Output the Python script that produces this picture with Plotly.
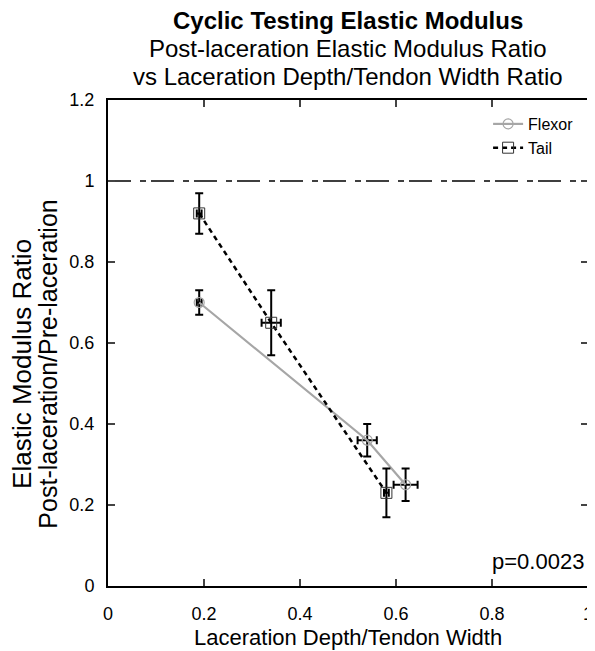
import plotly.graph_objects as go

# ---- data ----
flexor_x = [0.19, 0.54, 0.62]
flexor_y = [0.70, 0.36, 0.25]
flexor_yerr = [0.03, 0.04, 0.04]
flexor_xerr = [0.005, 0.02, 0.025]

tail_x = [0.19, 0.34, 0.58]
tail_y = [0.92, 0.65, 0.23]
tail_yerr = [0.05, 0.08, 0.06]
tail_xerr = [0.005, 0.02, 0.005]

ref_y = 1.0
x_ticks = [0, 0.2, 0.4, 0.6, 0.8, 1]
y_ticks = [0, 0.2, 0.4, 0.6, 0.8, 1, 1.2]
p_text = "p=0.0023"
title_lines = ["<b>Cyclic Testing Elastic Modulus</b>",
               "Post-laceration Elastic Modulus Ratio",
               "vs Laceration Depth/Tendon Width Ratio"]
x_title = "Laceration Depth/Tendon Width"
y_title_lines = ["Elastic Modulus Ratio", "Post-laceration/Pre-laceration"]

FONT = "Liberation Sans, Arial, sans-serif"

# layout geometry (figure pixels)
W, H = 595, 651
L, R, T, B = 100, 10, 92, 73
PW, PH = W - L - R, H - T - B


def px(fx):
    return (fx - L) / PW


def py(fy):
    return (H - B - fy) / PH


fig = go.Figure()

# reference line at y = 1
fig.add_trace(go.Scatter(
    x=[0, 1], y=[ref_y, ref_y], mode="lines",
    line=dict(color="black", width=1.5, dash="23px,9px,6px,5px"),
    showlegend=False, hoverinfo="skip"))

fig.add_trace(go.Scatter(
    x=flexor_x, y=flexor_y, name="Flexor", mode="lines+markers",
    line=dict(color="#a6a6a6", width=2.2),
    marker=dict(symbol="circle-open", size=10, color="#a6a6a6", line=dict(width=1.2)),
    error_y=dict(type="data", array=flexor_yerr, color="black", thickness=2, width=4),
    error_x=dict(type="data", array=flexor_xerr, color="black", thickness=2, width=4),
))

fig.add_trace(go.Scatter(
    x=tail_x, y=tail_y, name="Tail", mode="lines+markers",
    line=dict(color="black", width=2.5, dash="5px,4px"),
    marker=dict(symbol="square-open", size=11, color="#333333", line=dict(width=1)),
    error_y=dict(type="data", array=tail_yerr, color="black", thickness=2, width=4),
    error_x=dict(type="data", array=tail_xerr, color="black", thickness=2, width=4),
))

# p-value
fig.add_annotation(
    x=px(583), y=py(553), xref="paper", yref="paper", xanchor="right", yanchor="middle",
    text=p_text, showarrow=False, font=dict(family=FONT, size=22, color="black"))

# title lines
title_sizes = [24, 24, 24]
title_y = [12, 40, 68]
for txt, sz, ty in zip(title_lines, title_sizes, title_y):
    fig.add_annotation(
        x=px(343), y=py(ty), xref="paper", yref="paper", xanchor="center", yanchor="middle",
        text=txt, showarrow=False, font=dict(family=FONT, size=sz, color="black"))

# x-axis title
fig.add_annotation(
    x=px(343), y=py(629), xref="paper", yref="paper", xanchor="center", yanchor="middle",
    text=x_title, showarrow=False, font=dict(family=FONT, size=22, color="black"))

# y-axis title (two lines)
for txt, fx, sz in zip(y_title_lines, [13, 39], [26, 25]):
    fig.add_annotation(
        x=px(fx), y=py(356), xref="paper", yref="paper", xanchor="center", yanchor="middle",
        text=txt, textangle=-90, showarrow=False, font=dict(family=FONT, size=sz, color="black"))

fig.update_layout(
    width=W, height=H,
    margin=dict(l=L, r=R, t=T, b=B),
    paper_bgcolor="white", plot_bgcolor="white",
    font=dict(family=FONT, color="black"),
    legend=dict(
        x=px(576), y=py(99), xanchor="right", yanchor="top",
        bgcolor="rgba(0,0,0,0)", font=dict(family=FONT, size=16, color="black"),
        tracegroupgap=0, itemwidth=30),
    showlegend=True,
)

fig.update_xaxes(
    range=[0, 1], tickvals=x_ticks, ticks="inside", ticklen=7, tickwidth=1.5,
    showline=True, linewidth=2, linecolor="black", mirror="ticks",
    showgrid=False, zeroline=False, ticklabelstandoff=10,
    tickfont=dict(family=FONT, size=18))

fig.update_yaxes(
    range=[0, 1.2], tickvals=y_ticks, ticks="inside", ticklen=7, tickwidth=1.5,
    showline=True, linewidth=2, linecolor="black", mirror="ticks",
    showgrid=False, zeroline=False, ticklabelstandoff=8,
    tickfont=dict(family=FONT, size=18))

fig.write_html("out.html")
